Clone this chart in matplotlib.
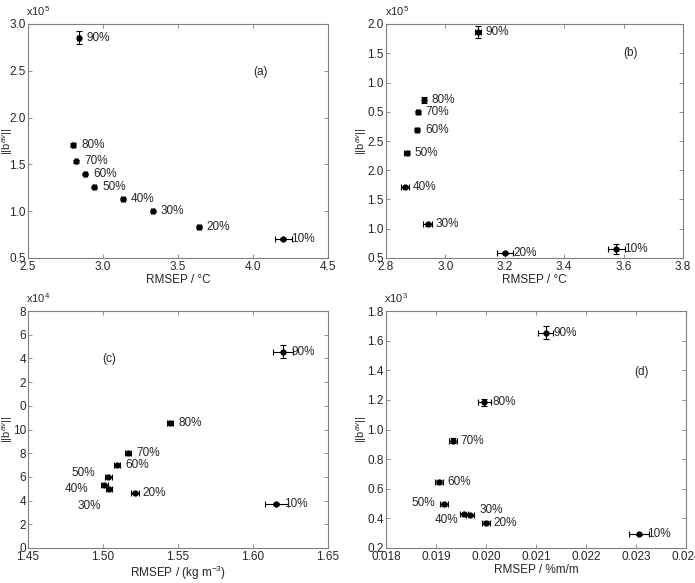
import matplotlib
matplotlib.use('Agg')
import matplotlib.pyplot as plt

plt.rcParams['font.family'] = ['Liberation Sans', 'DejaVu Sans']
plt.rcParams['mathtext.fontset'] = 'custom'
plt.rcParams['mathtext.rm'] = 'Liberation Sans'
plt.rcParams['mathtext.it'] = 'Liberation Sans:italic'

# ---------------- data ----------------
levels = ['10%', '20%', '30%', '40%', '50%', '60%', '70%', '80%', '90%']

# (a)
a_x = [4.202, 3.638, 3.331, 3.134, 2.943, 2.881, 2.820, 2.802, 2.838]
a_y = [0.702, 0.830, 1.000, 1.128, 1.262, 1.397, 1.535, 1.706, 2.855]
a_xerr = [0.057, 0.012, 0.012, 0.014, 0.012, 0.010, 0.010, 0.010, 0.010]
a_yerr = [0.010, 0.010, 0.010, 0.010, 0.010, 0.010, 0.015, 0.020, 0.074]

# (b)  y in broken-axis tick units (0..8)
b_x = [3.576, 3.201, 2.940, 2.864, 2.870, 2.904, 2.907, 2.927, 3.109]
b_y = [0.31, 0.18, 1.15, 2.43, 3.60, 4.39, 4.99, 5.41, 7.72]
b_xerr = [0.028, 0.027, 0.015, 0.015, 0.008, 0.006, 0.006, 0.007, 0.011]
b_yerr = [0.16, 0.04, 0.04, 0.04, 0.05, 0.05, 0.05, 0.10, 0.21]
b_ticklabels = ['0.5', '1.0', '1.5', '2.0', '2.5', '0.5', '1.0', '1.5', '2.0']

# (c)  y in broken-axis tick units (0..10)
c_x = [1.6156, 1.5211, 1.5040, 1.5009, 1.5036, 1.5093, 1.5169, 1.5447, 1.6200]
c_y = [1.86, 2.31, 2.50, 2.64, 3.00, 3.49, 3.99, 5.29, 8.28]
c_xerr = [0.0074, 0.0027, 0.0022, 0.0022, 0.0022, 0.0020, 0.0020, 0.0022, 0.0069]
c_yerr = [0.04, 0.04, 0.04, 0.04, 0.04, 0.04, 0.06, 0.08, 0.27]
c_ticklabels = ['0', '2', '4', '6', '8', '10', '0', '2', '4', '6', '8']

# (d)
d_x = [0.023053, 0.019993, 0.019680, 0.019560, 0.019167, 0.019060, 0.019333, 0.019967, 0.021193]
d_y = [0.292, 0.371, 0.424, 0.427, 0.495, 0.646, 0.925, 1.183, 1.654]
d_xerr = [0.00020, 0.00008, 0.00008, 0.00008, 0.00008, 0.00008, 0.00008, 0.00013, 0.00015]
d_yerr = [0.005, 0.008, 0.008, 0.008, 0.010, 0.015, 0.018, 0.022, 0.042]

# label offsets (pixels) for crowded points; default is to the right
default_off = (8, 0, 'left')
c_offsets = {'50%': (-13, 4, 'right'), '40%': (-16, -4, 'right'), '30%': (-8, -17, 'right')}
d_offsets = {'50%': (-9, 1, 'right'), '40%': (-6, -6, 'right'), '30%': (10, 5, 'left')}

grey = '#7f7f7f'
txt = '#262626'
fs = 8.5

fig = plt.figure(figsize=(6.95, 5.83), dpi=100)
ax_a = fig.add_axes([28 / 695, 1 - 258 / 583, 300 / 695, 234 / 583])
ax_b = fig.add_axes([386 / 695, 1 - 258 / 583, 297 / 695, 234 / 583])
ax_c = fig.add_axes([28 / 695, 1 - 548 / 583, 300 / 695, 237 / 583])
ax_d = fig.add_axes([386 / 695, 1 - 548 / 583, 300 / 695, 237 / 583])


def draw(ax, x, y, xerr, yerr, offsets, ylab_x):
    ax.errorbar(x, y, xerr=xerr, yerr=yerr, fmt='o', color='black', ms=3.5,
                elinewidth=0.8, capsize=2, capthick=0.8)
    for xi, yi, lab in zip(x, y, levels):
        dx, dy, ha = offsets.get(lab, default_off)
        ax.annotate(lab, (xi, yi), xytext=(dx, dy), textcoords='offset pixels',
                    ha=ha, va='center', fontsize=fs, color=txt)
    for s in ax.spines.values():
        s.set_color(grey)
        s.set_linewidth(0.8)
    ax.tick_params(direction='in', length=3, width=0.6, color=grey,
                   labelsize=fs, labelcolor=txt, top=True, right=True, pad=2)
    ax.tick_params(axis='y', pad=1.5)
    ax.set_ylabel('||b$^{av}$||', fontsize=8, color=txt)
    ax.yaxis.label.set_verticalalignment('center')
    ax.yaxis.set_label_coords(ylab_x, 0.5)


def multiplier(ax, s):
    ax.text(-0.005, 1.025, s, transform=ax.transAxes, fontsize=fs - 0.5,
            color=txt, ha='left', va='bottom')


# (a)
draw(ax_a, a_x, a_y, a_xerr, a_yerr, {}, -0.068)
ax_a.set_xlim(2.5, 4.5)
ax_a.set_ylim(0.5, 3.0)
ax_a.set_xticks([2.5, 3.0, 3.5, 4.0, 4.5])
ax_a.set_yticks([0.5, 1.0, 1.5, 2.0, 2.5, 3.0])
ax_a.set_xticklabels(['2.5', '3.0', '3.5', '4.0', '4.5'])
ax_a.set_yticklabels(['0.5', '1.0', '1.5', '2.0', '2.5', '3.0'])
ax_a.set_xlabel('RMSEP / °C', fontsize=fs, color=txt, labelpad=1)
ax_a.text(4.052, 2.49, '(a)', fontsize=fs, color=txt, ha='center', va='center')
multiplier(ax_a, 'x10$^5$')

# (b)
draw(ax_b, b_x, b_y, b_xerr, b_yerr, {}, -0.082)
ax_b.set_xlim(2.8, 3.8)
ax_b.set_ylim(0, 8)
ax_b.set_xticks([2.8, 3.0, 3.2, 3.4, 3.6, 3.8])
ax_b.set_xticklabels(['2.8', '3.0', '3.2', '3.4', '3.6', '3.8'])
ax_b.set_yticks(range(len(b_ticklabels)))
ax_b.set_yticklabels(b_ticklabels)
ax_b.set_xlabel('RMSEP / °C', fontsize=fs, color=txt, labelpad=1)
ax_b.text(3.623, 7.0, '(b)', fontsize=fs, color=txt, ha='center', va='center')
multiplier(ax_b, 'x10$^5$')

# (c)
draw(ax_c, c_x, c_y, c_xerr, c_yerr, c_offsets, -0.068)
ax_c.set_xlim(1.45, 1.65)
ax_c.set_ylim(0, 10)
ax_c.set_xticks([1.45, 1.50, 1.55, 1.60, 1.65])
ax_c.set_xticklabels(['1.45', '1.50', '1.55', '1.60', '1.65'])
ax_c.set_yticks(range(len(c_ticklabels)))
ax_c.set_yticklabels(c_ticklabels)
ax_c.set_xlabel('RMSEP / (kg m$^{-3}$)', fontsize=fs, color=txt, labelpad=1)
ax_c.text(1.5042, 7.97, '(c)', fontsize=fs, color=txt, ha='center', va='center')
multiplier(ax_c, 'x10$^4$')

# (d)
draw(ax_d, d_x, d_y, d_xerr, d_yerr, d_offsets, -0.082)
ax_d.set_xlim(0.018, 0.024)
ax_d.set_ylim(0.2, 1.8)
ax_d.set_xticks([0.018, 0.019, 0.020, 0.021, 0.022, 0.023, 0.024])
ax_d.set_xticklabels(['0.018', '0.019', '0.020', '0.021', '0.022', '0.023', '0.024'])
ax_d.set_yticks([0.2, 0.4, 0.6, 0.8, 1.0, 1.2, 1.4, 1.6, 1.8])
ax_d.set_yticklabels(['0.2', '0.4', '0.6', '0.8', '1.0', '1.2', '1.4', '1.6', '1.8'])
ax_d.set_xlabel('RMSEP / %m/m', fontsize=fs, color=txt, labelpad=1)
ax_d.text(0.023113, 1.386, '(d)', fontsize=fs, color=txt, ha='center', va='center')
multiplier(ax_d, 'x10$^3$')

fig.savefig('out.png', dpi=100)
